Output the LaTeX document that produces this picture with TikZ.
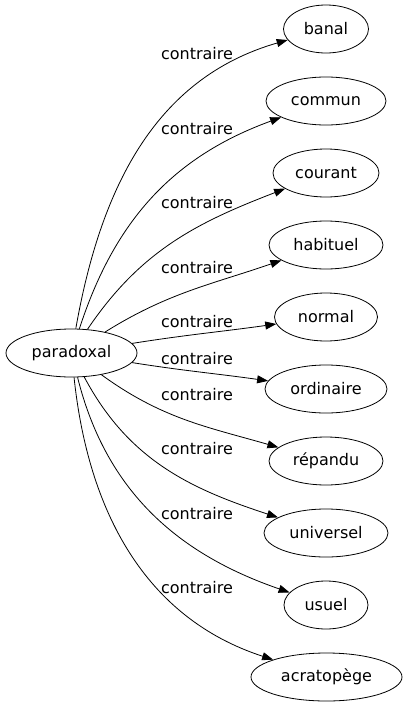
\documentclass[tikz,border=0pt]{standalone}
\usepackage{fontspec}
\setmainfont{DejaVu Sans}
\usetikzlibrary{shapes.geometric,arrows.meta}

\begin{document}
\begin{tikzpicture}[x=1pt, y=1pt, every node/.style={font=\fontsize{16}{19}\selectfont}]
			% Styles
			\tikzstyle{word} = [ellipse, draw=black, line width=0.8pt, minimum height=48pt, inner sep=0pt]
			\tikzstyle{rel_label} = [inner sep=0pt, anchor=center]
			\tikzstyle{rel_edge} = [-{Triangle[length=11pt, width=8pt]}, line width=0.8pt, looseness=1]

			\useasboundingbox (0,0) rectangle (407,-707);

			% Source word (left)
			\node[word, minimum width=131pt] (paradoxal) at (71.5,-353) {paradoxal};

			% Opposite words (right column)
			\node[word, minimum width=85pt] (banal) at (326,-29) {banal};
			\node[word, minimum width=120pt] (commun) at (326,-101) {commun};
			\node[word, minimum width=106pt] (courant) at (326,-173) {courant};
			\node[word, minimum width=114pt] (habituel) at (326,-245) {habituel};
			\node[word, minimum width=103pt] (normal) at (326,-317) {normal};
			\node[word, minimum width=122pt] (ordinaire) at (326,-389) {ordinaire};
			\node[word, minimum width=114pt] (repandu) at (326,-461) {répandu};
			\node[word, minimum width=124pt] (universel) at (326,-533) {universel};
			\node[word, minimum width=84pt] (usuel) at (326,-605) {usuel};
			\node[word, minimum width=151pt] (acratopege) at (326.5,-677) {acratopège};

			% Edge labels
			\node[rel_label] (lbanal) at (197,-54) {contraire};
			\node[rel_label] (lcommun) at (197,-129) {contraire};
			\node[rel_label] (lcourant) at (197,-203) {contraire};
			\node[rel_label] (lhabituel) at (197,-268) {contraire};
			\node[rel_label] (lnormal) at (197,-322) {contraire};
			\node[rel_label] (lordinaire) at (197,-359) {contraire};
			\node[rel_label] (lrepandu) at (197,-395) {contraire};
			\node[rel_label] (luniversel) at (197,-449) {contraire};
			\node[rel_label] (lusuel) at (197,-514) {contraire};
			\node[rel_label] (lacratopege) at (197,-588) {contraire};

			% Edges
			\draw[rel_edge] (paradoxal) to[out=80, in=196] (banal);
			\draw[rel_edge] (paradoxal) to[out=72, in=200] (commun);
			\draw[rel_edge] (paradoxal) to[out=56, in=201] (courant);
			\draw[rel_edge] (paradoxal) to[out=32, in=199] (habituel);
			\draw[rel_edge] (paradoxal) to[out=9, in=188] (normal);
			\draw[rel_edge] (paradoxal) to[out=-9, in=172] (ordinaire);
			\draw[rel_edge] (paradoxal) to[out=-36, in=164] (repandu);
			\draw[rel_edge] (paradoxal) to[out=-62, in=162] (universel);
			\draw[rel_edge] (paradoxal) to[out=-76, in=161] (usuel);
			\draw[rel_edge] (paradoxal) to[out=-84, in=162] (acratopege);

		\end{tikzpicture}
\end{document}
